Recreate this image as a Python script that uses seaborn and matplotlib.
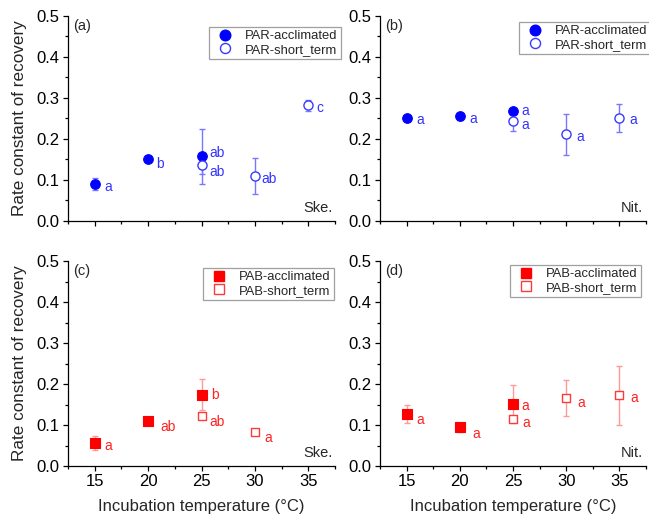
import numpy as np
import pandas as pd
import matplotlib
matplotlib.use("Agg")
import matplotlib.pyplot as plt
import seaborn as sns
from matplotlib.lines import Line2D

sns.set_theme(style="ticks")
plt.rcParams['font.family'] = ['Liberation Sans', 'DejaVu Sans']

# ---------------- data ----------------
# Panel (a) Ske., PAR
a_acc_t = [15, 20, 25]
a_acc_k = [0.090, 0.152, 0.158]
a_acc_e = [0.015, 0.004, 0.067]
a_acc_lab = ["a", "b", "ab"]
a_st_t = [25, 30, 35]
a_st_k = [0.136, 0.110, 0.282]
a_st_e = [0.021, 0.044, 0.013]
a_st_lab = ["ab", "ab", "c"]

# Panel (b) Nit., PAR
b_acc_t = [15, 20, 25]
b_acc_k = [0.252, 0.255, 0.268]
b_acc_e = [0.004, 0.009, 0.005]
b_acc_lab = ["a", "a", "a"]
b_st_t = [25, 30, 35]
b_st_k = [0.245, 0.212, 0.252]
b_st_e = [0.025, 0.050, 0.034]
b_st_lab = ["a", "a", "a"]

# Panel (c) Ske., PAB
c_acc_t = [15, 20, 25]
c_acc_k = [0.056, 0.109, 0.174]
c_acc_e = [0.016, 0.004, 0.037]
c_acc_lab = ["a", "ab", "b"]
c_st_t = [25, 30]
c_st_k = [0.122, 0.083]
c_st_e = [0.004, 0.005]
c_st_lab = ["ab", "a"]

# Panel (d) Nit., PAB
d_acc_t = [15, 20, 25]
d_acc_k = [0.126, 0.094, 0.152]
d_acc_e = [0.022, 0.012, 0.046]
d_acc_lab = ["a", "a", "a"]
d_st_t = [25, 30, 35]
d_st_k = [0.114, 0.166, 0.172]
d_st_e = [0.005, 0.043, 0.072]
d_st_lab = ["a", "a", "a"]

x_ticks = [15, 20, 25, 30, 35]
y_ticks = [0.0, 0.1, 0.2, 0.3, 0.4, 0.5]

# label offsets (points) — style only
a_acc_off = [(7, -2), (6, -4), (6, 2)]
a_st_off = [(6, -5), (5, -2), (6, -2)]
b_acc_off = [(7, -2), (7, -2), (6, 0)]
b_st_off = [(6, -3), (7, -2), (7, -2)]
c_acc_off = [(7, -2), (9, -4), (7, 0)]
c_st_off = [(6, -4), (7, -4)]
d_acc_off = [(7, -4), (9, -5), (6, -2)]
d_st_off = [(7, -3), (8, -4), (8, -2)]

# ---------------- styles ----------------
BLUE = "#0000ff"
BLUE_OPEN = "#3a3aff"
BLUE_ERR = "#7777ff"
BLUE_TXT = "#3333ff"
RED = "#ff0000"
RED_OPEN = "#ff3a3a"
RED_ERR = "#ff9a9a"
RED_TXT = "#ff2222"

fig = plt.figure(figsize=(6.49, 5.18), dpi=100)
W, H = 649, 518
def rect(l, r, t, b):
    return [l / W, 1 - b / H, (r - l) / W, (b - t) / H]

ax_a = fig.add_axes(rect(68, 335, 16, 221))
ax_b = fig.add_axes(rect(380, 646, 16, 221))
ax_c = fig.add_axes(rect(68, 335, 261, 466))
ax_d = fig.add_axes(rect(380, 646, 261, 466))


def draw(ax, acc, st, marker, fill, open_c, err_c, txt_c, names, letter, site,
         leg_xy, ms):
    (at, ak, ae, alab, aoff) = acc
    (st_t, sk, se, slab, soff) = st
    # error bars
    ax.errorbar(at, ak, yerr=ae, fmt="none", ecolor=err_c, elinewidth=1,
                capsize=2.2, capthick=1, zorder=2)
    ax.errorbar(st_t, sk, yerr=se, fmt="none", ecolor=err_c, elinewidth=1,
                capsize=2.2, capthick=1, zorder=2)
    dfa = pd.DataFrame({"t": at, "k": ak})
    dfs = pd.DataFrame({"t": st_t, "k": sk})
    sns.scatterplot(data=dfa, x="t", y="k", ax=ax, marker=marker, s=ms,
                    color=fill, edgecolor=fill, linewidth=0.8, zorder=3,
                    legend=False)
    sns.scatterplot(data=dfs, x="t", y="k", ax=ax, marker=marker, s=ms * 0.9,
                    facecolor="white", edgecolor=open_c, linewidth=1.0,
                    zorder=3, legend=False)
    for x, y, l, o in zip(at, ak, alab, aoff):
        ax.annotate(l, (x, y), xytext=o, textcoords="offset points",
                    ha="left", va="center", color=txt_c, fontsize=10)
    for x, y, l, o in zip(st_t, sk, slab, soff):
        ax.annotate(l, (x, y), xytext=o, textcoords="offset points",
                    ha="left", va="center", color=txt_c, fontsize=10)
    ax.set_xlim(12.5, 37.5)
    ax.set_ylim(0, 0.5)
    ax.set_xticks(x_ticks)
    ax.set_yticks(y_ticks)
    ax.set_yticklabels([f"{v:.1f}" for v in y_ticks])
    ax.set_xticks([12.5, 17.5, 22.5, 27.5, 32.5, 37.5], minor=True)
    ax.set_yticks([0.05, 0.15, 0.25, 0.35, 0.45], minor=True)
    ax.tick_params(which="major", direction="out", length=3.5, width=0.9,
                   labelsize=12, colors="black", pad=2.5)
    ax.tick_params(which="minor", direction="out", length=2.2, width=0.9,
                   colors="black")
    for s in ["top", "right"]:
        ax.spines[s].set_visible(False)
    for s in ["left", "bottom"]:
        ax.spines[s].set_color("black")
        ax.spines[s].set_linewidth(0.9)
    ax.set_facecolor("white")
    ax.set_xlabel("")
    ax.set_ylabel("")
    ax.text(0.018, 0.985, letter, transform=ax.transAxes, ha="left", va="top",
            fontsize=10.5)
    ax.text(0.99, 0.03, site, transform=ax.transAxes, ha="right",
            va="bottom", fontsize=10.5)
    msz = np.sqrt(ms) * 1.1
    h1 = Line2D([], [], linestyle="none", marker=marker, markersize=msz,
                markerfacecolor=fill, markeredgecolor=fill)
    h2 = Line2D([], [], linestyle="none", marker=marker, markersize=msz * 0.95,
                markerfacecolor="white", markeredgecolor=open_c,
                markeredgewidth=1.0)
    leg = ax.legend([h1, h2], names, loc="upper left",
                    bbox_to_anchor=(leg_xy[0] / W, 1 - leg_xy[1] / H),
                    bbox_transform=fig.transFigure, fontsize=9.4,
                    frameon=True, fancybox=False, borderpad=0.25,
                    handletextpad=0.5, labelspacing=0.1, handlelength=2.0,
                    borderaxespad=0)
    leg.get_frame().set_edgecolor("#888888")
    leg.get_frame().set_linewidth(0.9)


draw(ax_a, (a_acc_t, a_acc_k, a_acc_e, a_acc_lab, a_acc_off),
     (a_st_t, a_st_k, a_st_e, a_st_lab, a_st_off), "o", BLUE, BLUE_OPEN,
     BLUE_ERR, BLUE_TXT, ["PAR-acclimated", "PAR-short_term"], "(a)", "Ske.",
     (209, 27), 48)
draw(ax_b, (b_acc_t, b_acc_k, b_acc_e, b_acc_lab, b_acc_off),
     (b_st_t, b_st_k, b_st_e, b_st_lab, b_st_off), "o", BLUE, BLUE_OPEN,
     BLUE_ERR, BLUE_TXT, ["PAR-acclimated", "PAR-short_term"], "(b)", "Nit.",
     (519, 22), 48)
draw(ax_c, (c_acc_t, c_acc_k, c_acc_e, c_acc_lab, c_acc_off),
     (c_st_t, c_st_k, c_st_e, c_st_lab, c_st_off), "s", RED, RED_OPEN,
     RED_ERR, RED_TXT, ["PAB-acclimated", "PAB-short_term"], "(c)", "Ske.",
     (203, 268), 42)
draw(ax_d, (d_acc_t, d_acc_k, d_acc_e, d_acc_lab, d_acc_off),
     (d_st_t, d_st_k, d_st_e, d_st_lab, d_st_off), "s", RED, RED_OPEN,
     RED_ERR, RED_TXT, ["PAB-acclimated", "PAB-short_term"], "(d)", "Nit.",
     (510, 265), 42)

ax_a.set_xticklabels([])
ax_b.set_xticklabels([])
for ax in (ax_a, ax_c):
    ax.set_ylabel("Rate constant of recovery", fontsize=12.3, labelpad=7)
for ax in (ax_c, ax_d):
    ax.set_xlabel("Incubation temperature (\u00b0C)", fontsize=12,
                  labelpad=7)

fig.savefig("out.png", dpi=100, facecolor="white")
